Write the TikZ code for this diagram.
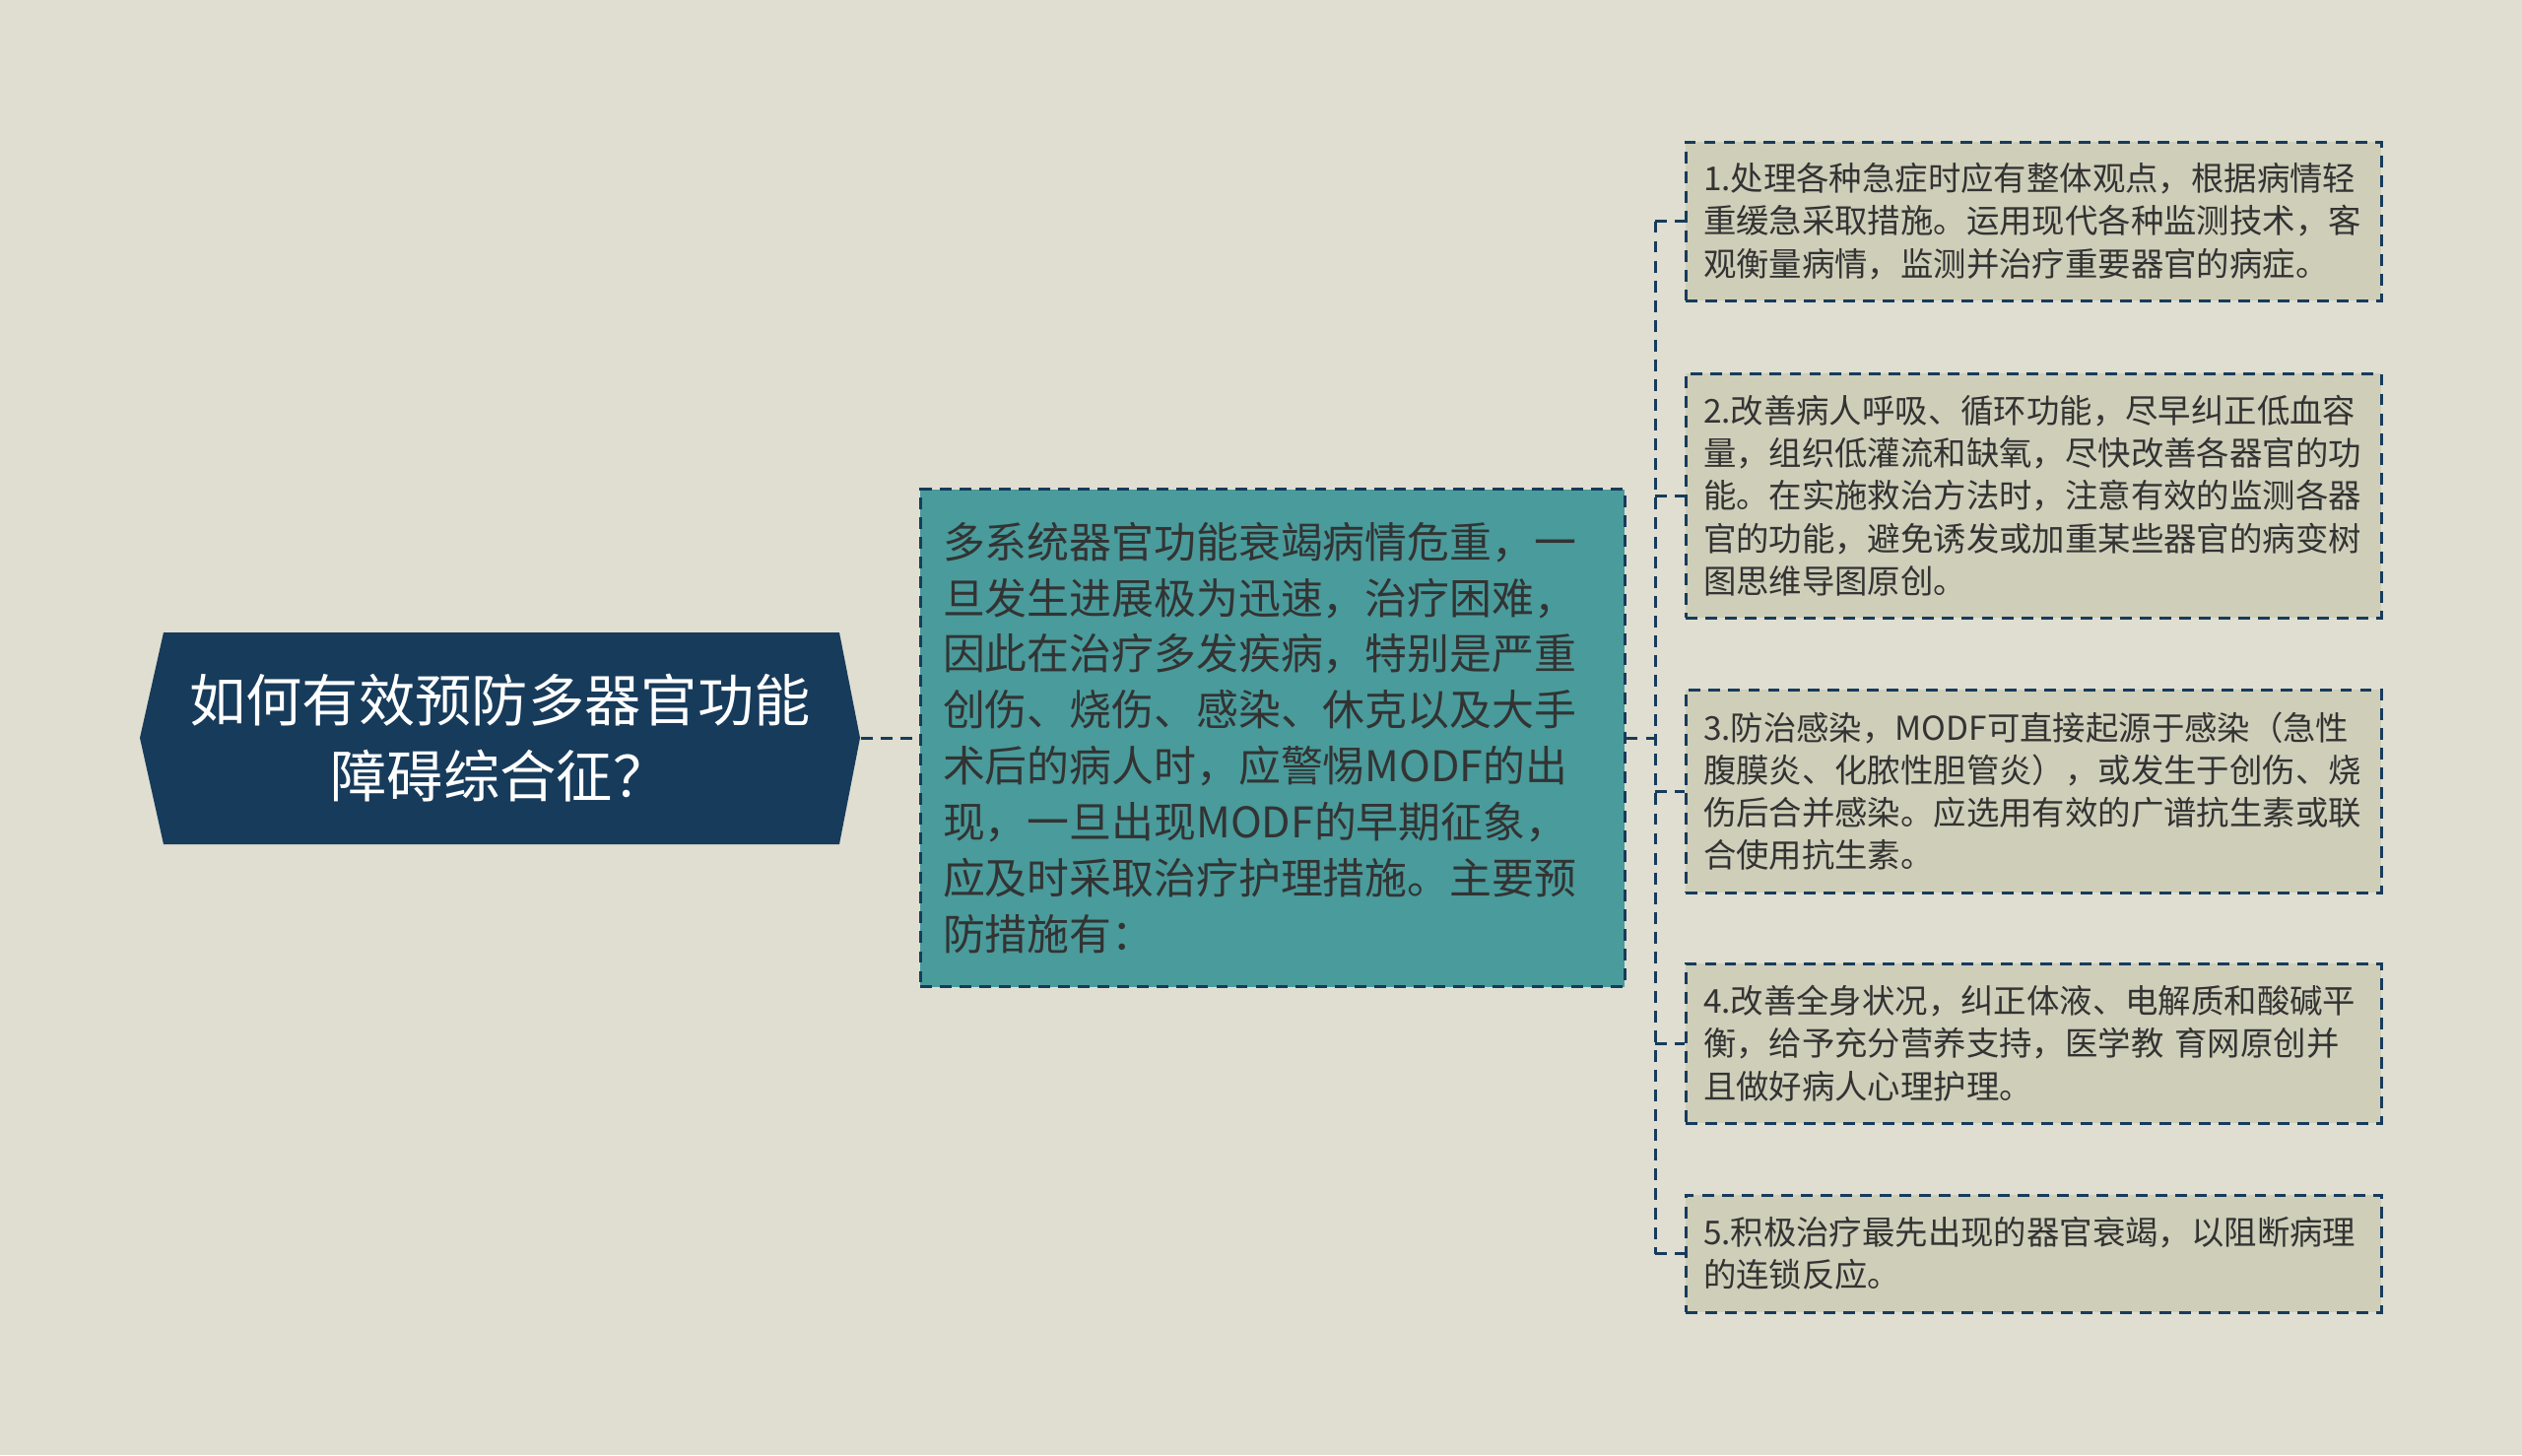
\documentclass[tikz,border=0pt]{standalone}
\usepackage{fontspec}
\setmainfont{Noto Sans CJK SC}
\usetikzlibrary{positioning}

\definecolor{pagebg}{HTML}{DFDED0}
\definecolor{navy}{HTML}{173B5B}
\definecolor{teal}{HTML}{4A9B9B}
\definecolor{khaki}{HTML}{CFCEB9}
\definecolor{txt}{HTML}{333333}

\tikzset{
    link/.style={navy, line width=0.85pt, dash pattern=on 3.4pt off 2.3pt},
    roottext/.style={text=white, align=center, minimum width=7.31cm, minimum height=2.15cm,
        font=\fontsize{16.3}{21.8}\selectfont},
    midbox/.style={fill=teal, draw=navy, line width=0.85pt, dash pattern=on 3.4pt off 2.3pt,
        text=txt, align=left, text width=6.69cm, inner xsep=0.23cm, minimum height=5.05cm,
        font=\fontsize{12.2}{16.2}\selectfont},
    leafbox/.style={fill=khaki, draw=navy, line width=0.85pt, dash pattern=on 3.4pt off 2.3pt,
        text=txt, align=left, text width=6.70cm, inner xsep=0.18cm,
        font=\fontsize{9.5}{12.3}\selectfont}
}

\begin{document}
\begin{tikzpicture}
    \useasboundingbox (0,0) rectangle (25.6,-14.77);
    \fill[pagebg] (0,0) rectangle (25.6,-14.77);

    % root shape
    \fill[navy] (1.42,-7.49) -- (1.66,-6.42) -- (8.52,-6.42) -- (8.73,-7.49)
        -- (8.52,-8.57) -- (1.66,-8.57) -- cycle;
    \node[roottext] (root) at (5.075,-7.49) {如何有效预防多器官功能\\障碍综合征？};

    % middle box
    \node[midbox] (mid) at (12.915,-7.49) {多系统器官功能衰竭病情危重，一\\旦发生进展极为迅速，治疗困难，\\因此在治疗多发疾病，特别是严重\\创伤、烧伤、感染、休克以及大手\\术后的病人时，应警惕MODF的出\\现，一旦出现MODF的早期征象，\\应及时采取治疗护理措施。主要预\\防措施有：};

    % leaves
    \node[leafbox, minimum height=1.61cm] (c1) at (20.64,-2.245) {1.处理各种急症时应有整体观点，根据病情轻\\重缓急采取措施。运用现代各种监测技术，客\\观衡量病情，监测并治疗重要器官的病症。};
    \node[leafbox, minimum height=2.48cm] (c2) at (20.64,-5.03) {2.改善病人呼吸、循环功能，尽早纠正低血容\\量，组织低灌流和缺氧，尽快改善各器官的功\\能。在实施救治方法时，注意有效的监测各器\\官的功能，避免诱发或加重某些器官的病变树\\图思维导图原创。};
    \node[leafbox, minimum height=2.06cm] (c3) at (20.64,-8.03) {3.防治感染，MODF可直接起源于感染（急性\\腹膜炎、化脓性胆管炎），或发生于创伤、烧\\伤后合并感染。应选用有效的广谱抗生素或联\\合使用抗生素。};
    \node[leafbox, minimum height=1.62cm] (c4) at (20.64,-10.59) {4.改善全身状况，纠正体液、电解质和酸碱平\\衡，给予充分营养支持，医学教 育网原创并\\且做好病人心理护理。};
    \node[leafbox, minimum height=1.19cm] (c5) at (20.64,-12.725) {5.积极治疗最先出现的器官衰竭，以阻断病理\\的连锁反应。};

    % connectors
    \coordinate (bus) at (16.8,-7.49);
    \draw[link] (root.east) -- (mid.west);
    \draw[link] (mid.east) -- (bus);
    \draw[link] (bus |- c1.west) -- (bus |- c5.west);
    \foreach \i in {1,...,5} {
        \draw[link] (bus |- c\i.west) -- (c\i.west);
    }
\end{tikzpicture}
\end{document}
